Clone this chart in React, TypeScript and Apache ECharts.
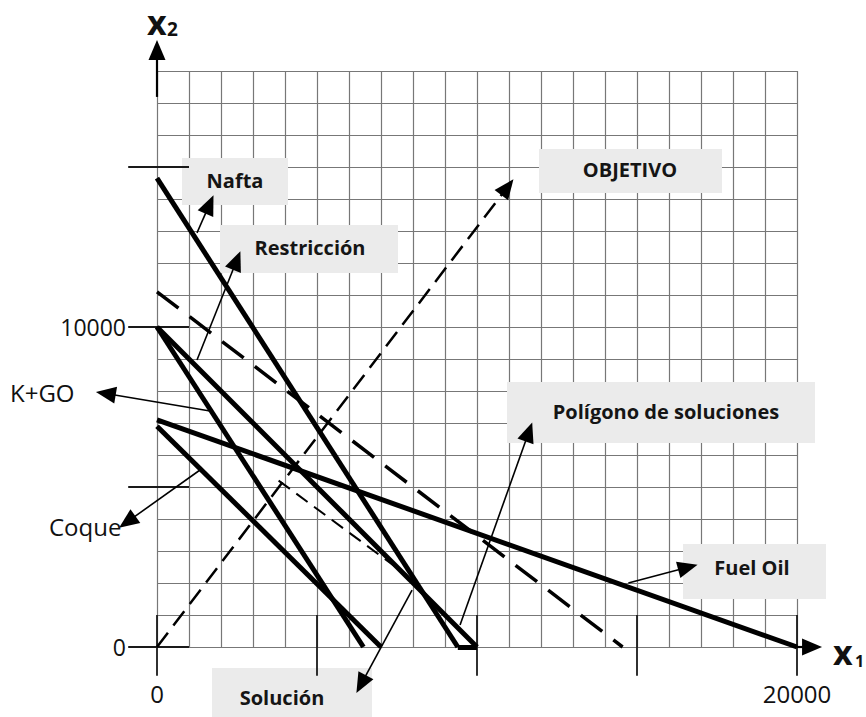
import React, { useEffect, useRef } from "react";
import * as echarts from "echarts";

// ---- axis values ----
const xTickValues = [0, 5000, 10000, 15000, 20000];
const yTickValues = [0, 5000, 10000, 15000];
const xLabelValues = [0, 20000];
const yLabelValues = [0, 10000];

// ---- constraint lines (x1, x2 coordinates) ----
const naftaLine = [[0, 14650], [9400, 0]];
const polygonBase = [[9400, 0], [10000, 0]];
const restriccionLine = [[0, 10000], [10000, 0]];
const kgoLine = [[0, 10000], [6450, 0]];
const coqueLine = [[0, 6900], [7000, 0]];
const fuelOilLine = [[0, 7100], [20000, 0]];

// ---- objective lines ----
const objectiveIso = [[0, 11100], [14550, 0]];
const objectiveOptimum = [[3800, 5200], [7800, 2250]];
const objectiveDirection = [[0, 0], [10950, 14370]];

// ---- annotation arrows (from, to) ----
const naftaArrow = [[1250, 12940], [1640, 13830]];
const restriccionArrow = [[1250, 8970], [2490, 12080]];
const kgoArrow = [[1656, 7375], [-1600, 7920]];
const coqueArrow = [[1344, 5531], [-930, 3910]];
const poligonoArrow = [[9470, 690], [11620, 6720]];
const fuelOilArrow = [[14730, 2000], [16590, 2490]];
const solucionArrow = [[7970, 1780], [6380, -1160]];
const xAxisArrow = [[20000, 0], [20470, 0]];
const yAxisArrow = [[0, 17190], [0, 18660]];

const FONT = '"Open Sans", "Noto Sans", sans-serif';

const boxLabels = [
  { text: "Nafta", x: 182, y: 158, w: 106, h: 47, tx: 235, ty: 180 },
  { text: "Restricción", x: 220, y: 225, w: 178, h: 48, tx: 310, ty: 247 },
  { text: "OBJETIVO", x: 539, y: 149, w: 183, h: 44, tx: 630, ty: 169 },
  { text: "Polígono de soluciones", x: 507, y: 382, w: 308, h: 61, tx: 666, ty: 411 },
  { text: "Fuel Oil", x: 683, y: 544, w: 143, h: 55, tx: 752, ty: 567 },
  { text: "Solución", x: 212, y: 668, w: 160, h: 49, tx: 282, ty: 697 },
];

const seg = (c: number[][]) => ({ coords: c });

export default function App() {
  const ref = useRef<HTMLDivElement>(null);
  useEffect(() => {
    if (!ref.current) return;
    const chart = echarts.init(ref.current, undefined, { renderer: "svg" });

    const yTickSegs = yTickValues.map((v) => seg([[-900, v], [1000, v]]));
    const xTickSegs = xTickValues.map((v) => seg([[v, -900], [v, 1000]]));

    const graphic: any[] = [];
    boxLabels.forEach((b) => {
      graphic.push({
        type: "rect",
        shape: { x: b.x, y: b.y, width: b.w, height: b.h },
        style: { fill: "#ebebeb" },
        z: 1,
        silent: true,
      });
      graphic.push({
        type: "text",
        x: b.tx,
        y: b.ty,
        z: 10,
        style: {
          text: b.text,
          fill: "#151515",
          font: `bold 20px ${FONT}`,
          align: "center",
          verticalAlign: "middle",
          textAlign: "center",
          textVerticalAlign: "middle",
        },
      });
    });
    const plain = (text: string, x: number, y: number, font: string, align = "left") => ({
      type: "text",
      x,
      y,
      z: 10,
      style: {
        text,
        fill: "#111",
        font,
        align,
        verticalAlign: "middle",
        textAlign: align,
        textVerticalAlign: "middle",
      },
    });
    graphic.push(plain("K+GO", 10, 392, `24px ${FONT}`));
    graphic.push(plain("Coque", 49, 526, `24px ${FONT}`));
    graphic.push(plain("x", 147, 22, `bold 34px ${FONT}`));
    graphic.push(plain("2", 167, 29, `bold 19px ${FONT}`));
    graphic.push(plain("x", 833, 652, `bold 34px ${FONT}`));
    graphic.push(plain("1", 855, 661, `bold 16px ${FONT}`));

    const arrowSeries = (data: any[], width: number, dash?: any) => ({
      type: "lines",
      coordinateSystem: "cartesian2d",
      clip: false,
      silent: true,
      symbol: ["none", "triangle"],
      symbolSize: [0, [17, 20]],
      lineStyle: { color: "#000", width, opacity: 1, type: dash || "solid" },
      data,
      z: 4,
    });

    chart.setOption({
      animation: false,
      backgroundColor: "#fff",
      grid: { left: 157, top: 71, width: 640, height: 576 },
      xAxis: {
        type: "value",
        min: 0,
        max: 20000,
        interval: 1000,
        axisLine: { show: false },
        axisTick: { show: false },
        splitLine: { show: true, lineStyle: { color: "#777", width: 1.2 } },
        axisLabel: {
          show: true,
          showMinLabel: true,
          showMaxLabel: true,
          margin: 34,
          fontSize: 24,
          color: "#111",
          fontFamily: FONT,
          formatter: (v: number) => (xLabelValues.includes(v) ? String(v) : ""),
        },
      },
      yAxis: {
        type: "value",
        min: 0,
        max: 18000,
        interval: 1000,
        axisLine: { show: false },
        axisTick: { show: false },
        splitLine: { show: true, lineStyle: { color: "#777", width: 1.2 } },
        axisLabel: {
          show: true,
          showMinLabel: true,
          showMaxLabel: true,
          margin: 31,
          fontSize: 23,
          color: "#111",
          fontFamily: FONT,
          formatter: (v: number) => (yLabelValues.includes(v) ? String(v) : ""),
        },
      },
      graphic,
      series: [
        {
          type: "lines",
          coordinateSystem: "cartesian2d",
          clip: false,
          silent: true,
          symbol: "none",
          lineStyle: { color: "#1a1a1a", width: 1.8, opacity: 1 },
          data: [...yTickSegs, ...xTickSegs],
          z: 2,
        },
        {
          type: "lines",
          coordinateSystem: "cartesian2d",
          clip: false,
          silent: true,
          symbol: "none",
          lineStyle: { color: "#000", width: 5, opacity: 1 },
          data: [naftaLine, polygonBase, restriccionLine, kgoLine, coqueLine, fuelOilLine].map(seg),
          z: 3,
        },
        {
          type: "lines",
          coordinateSystem: "cartesian2d",
          clip: false,
          silent: true,
          symbol: "none",
          lineStyle: { color: "#000", width: 3.5, opacity: 1, type: [27, 14] },
          data: [seg(objectiveIso)],
          z: 3,
        },
        {
          type: "lines",
          coordinateSystem: "cartesian2d",
          clip: false,
          silent: true,
          symbol: "none",
          lineStyle: { color: "#000", width: 2, opacity: 1, type: [14, 8] },
          data: [seg(objectiveOptimum)],
          z: 3,
        },
        arrowSeries([seg(objectiveDirection)], 2.5, [18, 9]),
        arrowSeries(
          [naftaArrow, restriccionArrow, kgoArrow, coqueArrow, poligonoArrow, fuelOilArrow, solucionArrow].map(seg),
          1.6
        ),
        arrowSeries([xAxisArrow, yAxisArrow].map(seg), 2.2),
      ],
    });
    return () => chart.dispose();
  }, []);
  return (
    <div
      ref={ref}
      style={{ position: "fixed", left: 0, top: 0, width: 866, height: 717, background: "#fff" }}
    />
  );
}
